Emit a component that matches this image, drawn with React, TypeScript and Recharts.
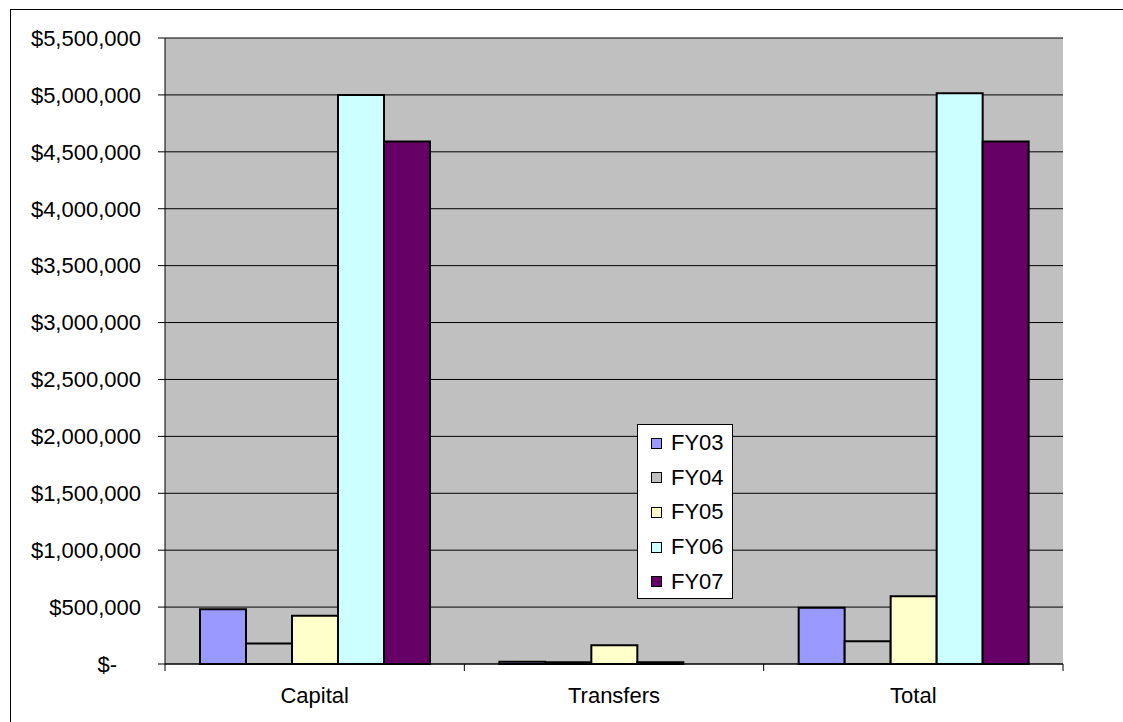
import React from "react";
import { Bar, BarChart, CartesianGrid, Legend, XAxis, YAxis } from "recharts";

// values
const CATEGORIES = ["Capital", "Transfers", "Total"];
const FY03 = [480000, 20000, 495000];
const FY04 = [180000, 15000, 200000];
const FY05 = [425000, 165000, 595000];
const FY06 = [5000000, 15000, 5015000];
const FY07 = [4590000, 0, 4590000];
const Y_TICKS = [
  0, 500000, 1000000, 1500000, 2000000, 2500000, 3000000, 3500000, 4000000,
  4500000, 5000000, 5500000,
];

const SERIES = [
  { key: "FY03", values: FY03, color: "#9999FF" },
  { key: "FY04", values: FY04, color: "#C0C0C0" },
  { key: "FY05", values: FY05, color: "#FFFFCC" },
  { key: "FY06", values: FY06, color: "#CCFFFF" },
  { key: "FY07", values: FY07, color: "#660066" },
];

const FONT = '"Liberation Sans", Arial, Helvetica, sans-serif';
const FONT_SIZE = 22;
const X_TICK_SIZE = 7;
const X_TICK_MARGIN = 16;

const data = CATEGORIES.map((name, i) => {
  const row: Record<string, string | number> = { name };
  SERIES.forEach((s) => {
    row[s.key] = s.values[i];
  });
  return row;
});

function MoneyTick(props: any) {
  const { x, y, payload } = props;
  const value = payload.value as number;
  const zero = value === 0;
  // accounting format pads the dash with two digit-widths
  const label = zero ? "$-" : "$" + value.toLocaleString("en-US");
  return (
    <text
      x={x - (zero ? 24 : 0)}
      y={y}
      dy="0.355em"
      textAnchor="end"
      fill="#000"
      fontSize={FONT_SIZE}
      fontFamily={FONT}
    >
      {label}
    </text>
  );
}

function CategoryTick(props: any) {
  const { x, y, payload, index } = props;
  const half = payload.offset ?? 0;
  const axisY = y - X_TICK_SIZE - X_TICK_MARGIN;
  const isLast = index === CATEGORIES.length - 1;
  return (
    <g>
      <line
        x1={x - half}
        x2={x - half}
        y1={axisY}
        y2={axisY + X_TICK_SIZE}
        stroke="#000"
      />
      {isLast ? (
        <line
          x1={x + half}
          x2={x + half}
          y1={axisY}
          y2={axisY + X_TICK_SIZE}
          stroke="#000"
        />
      ) : null}
      <text
        x={x}
        y={y}
        dy="0.71em"
        textAnchor="middle"
        fill="#000"
        fontSize={FONT_SIZE}
        fontFamily={FONT}
      >
        {payload.value}
      </text>
    </g>
  );
}

function LegendBox() {
  return (
    <div
      style={{
        width: 96,
        height: 175,
        boxSizing: "border-box",
        background: "#fff",
        border: "1px solid #000",
        paddingTop: 1,
        fontFamily: FONT,
        fontSize: FONT_SIZE,
        color: "#000",
      }}
    >
      {SERIES.map((s) => (
        <div
          key={s.key}
          style={{ display: "flex", alignItems: "center", height: 34.6 }}
        >
          <span
            style={{
              display: "inline-block",
              width: 9,
              height: 9,
              background: s.color,
              border: "1px solid #000",
              marginLeft: 13,
              marginRight: 9,
            }}
          />
          <span style={{ lineHeight: 1 }}>{s.key}</span>
        </div>
      ))}
    </div>
  );
}

export default function App() {
  return (
    <div
      style={{
        position: "absolute",
        left: 0,
        top: 0,
        width: 1123,
        height: 722,
        overflow: "hidden",
        background: "#fff",
        fontFamily: FONT,
      }}
    >
      <div
        style={{
          position: "absolute",
          left: 10,
          top: 9,
          width: 1200,
          height: 800,
          border: "1px solid #000",
        }}
      />
      <div style={{ position: "absolute", left: 0, top: 0 }}>
        <BarChart
          width={1123}
          height={722}
          data={data}
          margin={{ top: 38, right: 60, bottom: 18, left: 0 }}
          barGap={0}
          style={{ fontFamily: FONT }}
        >
          <CartesianGrid
            vertical={false}
            fill="#C0C0C0"
            fillOpacity={1}
            stroke="#000"
          />
          <XAxis
            dataKey="name"
            height={40}
            axisLine={{ stroke: "#000" }}
            tickLine={false}
            tickSize={X_TICK_SIZE}
            tickMargin={X_TICK_MARGIN}
            interval={0}
            tick={<CategoryTick />}
          />
          <XAxis
            xAxisId="top"
            dataKey="name"
            orientation="top"
            height={0}
            tick={false}
            tickLine={false}
            axisLine={{ stroke: "#808080" }}
          />
          <YAxis
            width={165}
            domain={[0, 5500000]}
            ticks={Y_TICKS}
            interval={0}
            axisLine={{ stroke: "#000" }}
            tickLine={{ stroke: "#000" }}
            tickSize={7}
            tickMargin={17}
            tick={<MoneyTick />}
          />
          <YAxis
            yAxisId="right"
            orientation="right"
            width={0}
            domain={[0, 5500000]}
            tick={false}
            tickLine={false}
            axisLine={{ stroke: "#808080" }}
          />
          {SERIES.map((s) => (
            <Bar
              key={s.key}
              dataKey={s.key}
              fill={s.color}
              stroke="#000"
              strokeWidth={2}
              barSize={46}
              isAnimationActive={false}
            />
          ))}
          <Legend
            layout="vertical"
            align="center"
            verticalAlign="middle"
            wrapperStyle={{ left: 637, top: 424, width: 96, height: 175 }}
            content={() => <LegendBox />}
          />
        </BarChart>
      </div>
    </div>
  );
}
